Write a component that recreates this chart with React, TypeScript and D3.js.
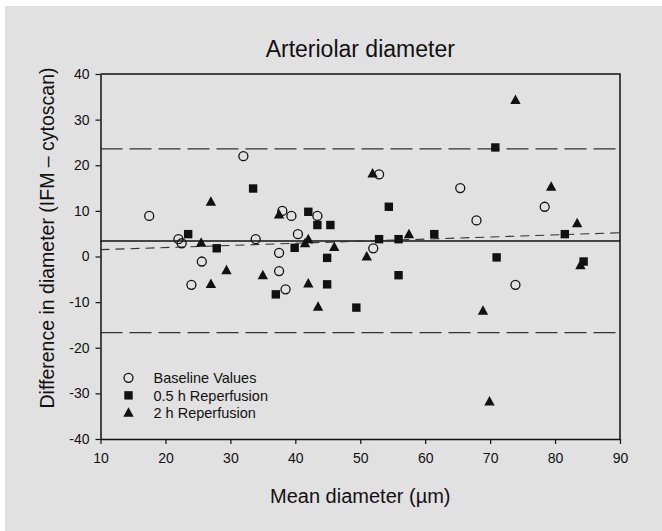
import React, { useRef, useEffect } from "react";
import * as d3 from "d3";

// Datos (media, diferencia)
const baseline: [number, number][] = [
  [17.5, 8.9], [22.0, 3.8], [22.5, 2.9], [24.0, -6.2], [25.6, -1.1],
  [32.0, 22.0], [33.9, 3.8], [37.5, 0.8], [37.5, -3.2], [38.0, 10.0],
  [38.5, -7.2], [39.4, 8.9], [40.4, 4.9], [43.4, 8.9], [52.0, 1.8],
  [52.9, 18.0], [65.4, 15.0], [67.9, 7.9], [73.9, -6.2], [78.4, 10.9],
];

const reperf05: [number, number][] = [
  [23.5, 4.9], [27.9, 1.8], [33.5, 14.9], [37.0, -8.3], [39.9, 1.9],
  [42.0, 9.8], [43.4, 6.9], [44.9, -0.3], [44.9, -6.1], [45.4, 6.9],
  [49.4, -11.2], [52.9, 3.8], [54.4, 10.9], [55.9, 3.8], [55.9, -4.1],
  [61.4, 4.9], [70.8, 23.9], [71.0, -0.2], [81.5, 4.9], [84.4, -1.1],
];

const reperf2: [number, number][] = [
  [25.5, 3.0], [27.0, 12.0], [27.0, -6.0], [29.4, -3.0], [35.0, -4.1],
  [37.5, 9.2], [41.5, 2.9], [42.0, 3.8], [42.0, -5.9], [43.5, -11.0],
  [46.0, 2.1], [51.0, 0.0], [51.9, 18.2], [57.5, 4.9], [68.9, -11.9],
  [69.9, -31.8], [73.9, 34.3], [79.4, 15.3], [83.4, 7.3], [83.9, -1.9],
];

// Media y límites de concordancia
const meanDiff = 3.4;
const limits = [23.6, -16.7];
// Recta de regresión (x, y) en los extremos
const regression: [number, number][] = [[10, 1.5], [90, 5.2]];

const xTicks = [10, 20, 30, 40, 50, 60, 70, 80, 90];
const yTicks = [-40, -30, -20, -10, 0, 10, 20, 30, 40];

const legendLabels = ["Baseline Values", "0.5 h Reperfusion", "2 h Reperfusion"];

const FONT = "'Liberation Sans', Arial, Helvetica, sans-serif";

const BlandAltman = ({ width = 662, height = 531 }) => {
  const d3Container = useRef<SVGSVGElement>(null);

  useEffect(() => {
    const container = d3Container.current;
    if (!container) return;
    d3.select(container).selectChildren().remove();

    const margin = { top: 74, right: 42, bottom: 92, left: 100.5 };
    const chart_width = width - margin.left - margin.right;
    const chart_height = height - margin.top - margin.bottom;

    const root = d3.select(container).style("font-family", FONT);

    // Fondo gris
    root
      .append("rect")
      .attr("x", 5)
      .attr("y", 6)
      .attr("width", width - 5)
      .attr("height", height - 6)
      .attr("fill", "#e1e1e1");

    const svg = root
      .append("g")
      .attr("transform", `translate(${margin.left}, ${margin.top})`);

    const x = d3.scaleLinear().domain([10, 90]).range([0, chart_width]);
    const y = d3.scaleLinear().domain([-40, 40]).range([chart_height, 0]);

    // Título
    svg
      .append("text")
      .attr("x", chart_width / 2)
      .attr("y", -17)
      .attr("text-anchor", "middle")
      .style("font-size", "23px")
      .attr("fill", "#111")
      .text("Arteriolar diameter");

    // Ejes (con guion simple como en el original)
    const fmt = (d: any) => String(d);
    const xAxis = svg
      .append("g")
      .attr("transform", `translate(0, ${chart_height})`)
      .call(d3.axisBottom(x).tickValues(xTicks).tickFormat(fmt).tickSize(5).tickSizeOuter(0).tickPadding(9));
    const yAxis = svg
      .append("g")
      .call(d3.axisLeft(y).tickValues(yTicks).tickFormat(fmt).tickSize(5).tickSizeOuter(0).tickPadding(6));

    [xAxis, yAxis].forEach((a) => {
      a.select(".domain").attr("stroke", "#111").attr("stroke-width", 1.5);
      a.selectAll(".tick line").attr("stroke", "#111").attr("stroke-width", 1.2);
      a.selectAll(".tick text")
        .attr("fill", "#111")
        .style("font-family", FONT)
        .style("font-size", "14px");
    });

    // Marco superior y derecho
    svg
      .append("path")
      .attr("d", `M0,0H${chart_width}V${chart_height}`)
      .attr("fill", "none")
      .attr("stroke", "#111")
      .attr("stroke-width", 1.5);

    // Rótulos de ejes
    svg
      .append("text")
      .attr("x", chart_width / 2)
      .attr("y", chart_height + 64)
      .attr("text-anchor", "middle")
      .style("font-size", "20px")
      .attr("fill", "#111")
      .text("Mean diameter (\u00b5m)");

    svg
      .append("text")
      .attr("transform", "rotate(-90)")
      .attr("x", -164)
      .attr("y", -47)
      .attr("text-anchor", "middle")
      .style("font-size", "19.5px")
      .attr("fill", "#111")
      .text("Difference in diameter (IFM \u2013 cytoscan)");

    // Límites de concordancia
    svg
      .selectAll("line.limit")
      .data(limits)
      .enter()
      .append("line")
      .attr("class", "limit")
      .attr("x1", 0)
      .attr("x2", chart_width)
      .attr("y1", (d) => y(d))
      .attr("y2", (d) => y(d))
      .attr("stroke", "#333")
      .attr("stroke-width", 1.3)
      .attr("stroke-dasharray", "22,7");

    // Media
    svg
      .append("line")
      .attr("x1", 0)
      .attr("x2", chart_width)
      .attr("y1", y(meanDiff))
      .attr("y2", y(meanDiff))
      .attr("stroke", "#111")
      .attr("stroke-width", 1.3);

    // Regresión
    svg
      .append("path")
      .datum(regression)
      .attr("d", d3.line<[number, number]>().x((d) => x(d[0])).y((d) => y(d[1])))
      .attr("fill", "none")
      .attr("stroke", "#333")
      .attr("stroke-width", 1.1)
      .attr("stroke-dasharray", "9,6");

    // Símbolos
    const circle = (g: any) =>
      g.append("circle").attr("r", 4.5).attr("fill", "none").attr("stroke", "#111").attr("stroke-width", 1.3);
    const square = (g: any) =>
      g.append("rect").attr("x", -4.2).attr("y", -4.2).attr("width", 8.4).attr("height", 8.4).attr("fill", "#111");
    const triangle = (g: any) =>
      g.append("path").attr("d", "M0,-5.5L5.2,4L-5.2,4Z").attr("fill", "#111");

    const series = [
      { data: baseline, mark: circle },
      { data: reperf05, mark: square },
      { data: reperf2, mark: triangle },
    ];

    series.forEach((s) => {
      s.data.forEach((d) => {
        const g = svg.append("g").attr("transform", `translate(${x(d[0])}, ${y(d[1])})`);
        s.mark(g);
      });
    });

    // Leyenda
    const legend = svg.append("g").attr("transform", `translate(28, ${y(-26.6)})`);
    series.forEach((s, i) => {
      const row = legend.append("g").attr("transform", `translate(0, ${i * 17.5})`);
      s.mark(row);
      row
        .append("text")
        .attr("x", 25)
        .attr("dy", "0.36em")
        .style("font-size", "14.5px")
        .attr("fill", "#111")
        .text(legendLabels[i]);
    });
  }, [width, height]);

  return (
    <svg
      ref={d3Container}
      width={width}
      height={height}
      style={{ position: "absolute", left: 0, top: 0, background: "#fff" }}
    />
  );
};

export default function App() {
  return <BlandAltman />;
}
